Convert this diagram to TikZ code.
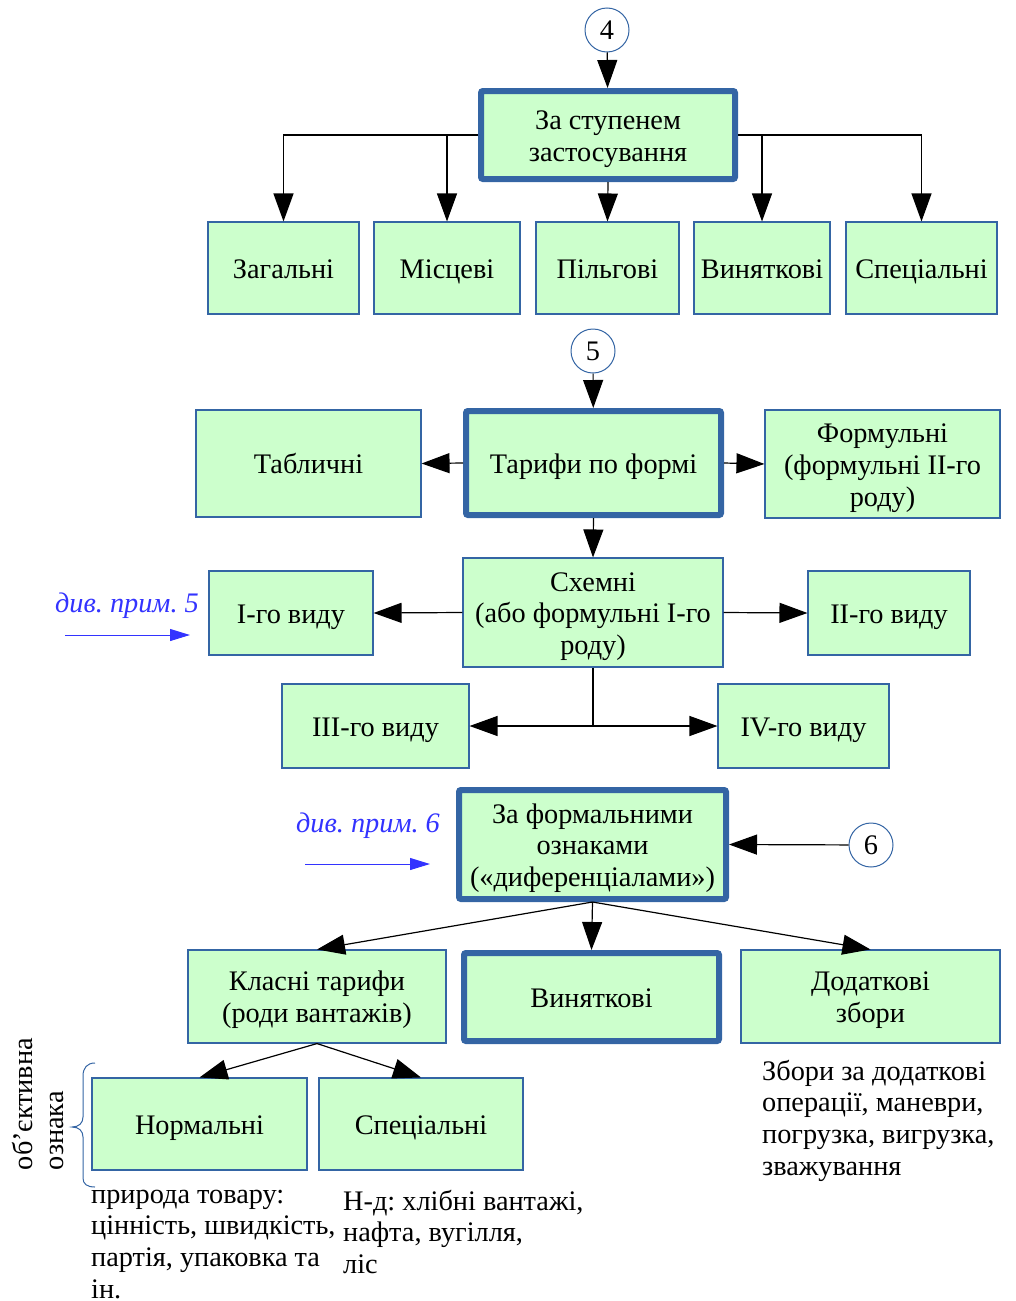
\documentclass[tikz,border=0pt]{standalone}
\usepackage{fontspec}
\setmainfont{Liberation Serif}
\usetikzlibrary{arrows.meta}
\definecolor{boxfill}{HTML}{CCFFCC}
\definecolor{boxline}{HTML}{3465A4}
\definecolor{noteblue}{HTML}{3333FF}
\frenchspacing
% fixed first-line ascent, so every box centres its lines alike
\newcommand\firstline{\rule{0pt}{28.6pt}}

\begin{document}
\begin{tikzpicture}[x=1pt,y=-1pt,
  every node/.style={font=\fontsize{28.3}{31.7}\selectfont},
  boxtext/.style={align=center, inner sep=0pt,
    execute at end node={\rule[-8pt]{0pt}{8pt}}},
  box/.style={boxtext, draw=boxline, line width=1.1pt, fill=boxfill},
  keybox/.style={boxtext, draw=boxline, line width=6pt, fill=boxfill, rounded corners=2pt},
  circ/.style={circle, draw=boxline, line width=1pt, fill=white, minimum size=44pt, inner sep=0pt},
  link/.style={line width=1.2pt, -{Triangle[length=28pt,width=20pt]}},
  plain/.style={line width=1.2pt},
  note/.style={text=noteblue, font=\fontsize{28.3}{31.7}\selectfont\itshape, inner sep=0pt, anchor=base},
  notearrow/.style={draw=noteblue, line width=1pt, -{Triangle[length=20pt,width=12pt]}},
  txt/.style={align=left, inner sep=0pt, anchor=north west},
  brace/.style={draw=boxline, line width=1pt}
]
\useasboundingbox (0,0) rectangle (1015,1301);

% --- degree of application ---
\node[circ] (c4) at (607,30) {4};
\node[keybox, minimum width=254pt, minimum height=88pt] (stup) at (608,135) {\firstline За ступенем\\застосування};
\node[box, minimum width=151pt, minimum height=92pt] (zag)  at (283.5,268) {\firstline Загальні};
\node[box, minimum width=146pt, minimum height=92pt] (misc) at (447,268)   {\firstline Місцеві};
\node[box, minimum width=143pt, minimum height=92pt] (pilg) at (607.5,268) {\firstline Пільгові};
\node[box, minimum width=136pt, minimum height=92pt] (vyn)  at (762,268)   {\firstline Виняткові};
\node[box, minimum width=151pt, minimum height=92pt] (spec) at (921.5,268) {\firstline Спеціальні};

\draw[link] (c4) -- (stup);
\draw[link] (stup.west) -| (zag.north);
\draw[link] (misc.north |- stup.west) -- (misc.north);
\draw[link] (stup.south) -- (pilg.north);
\draw[link] (stup.east) -| (spec.north);
\draw[link] (vyn.north |- stup.east) -- (vyn.north);

% --- tariffs by form ---
\node[circ] (c5) at (593,351) {5};
\node[keybox, minimum width=255pt, minimum height=104pt] (forma) at (593.5,463) {\firstline Тарифи по формі};
\node[box, minimum width=225pt, minimum height=107pt] (tabl) at (308.5,463.5) {\firstline Табличні};
\node[box, minimum width=235pt, minimum height=108pt] (formul) at (882.5,464) {\firstline Формульні\\(формульні II-го\\роду)};
\node[box, minimum width=260pt, minimum height=109pt] (shem) at (593,612.5) {\firstline Схемні\\(або формульні I-го\\роду)};
\node[box, minimum width=164pt, minimum height=84pt] (v1) at (291,613) {\firstline I-го виду};
\node[box, minimum width=162pt, minimum height=84pt] (v2) at (889,613) {\firstline II-го виду};
\node[box, minimum width=187pt, minimum height=84pt] (v3) at (375.5,726) {\firstline III-го виду};
\node[box, minimum width=171pt, minimum height=84pt] (v4) at (803.5,726) {\firstline IV-го виду};

\draw[link] (c5) -- (forma);
\draw[link] (forma.west) -- (tabl.east);
\draw[link] (forma.east) -- (formul.west);
\draw[link] (forma.south) -- (shem.north);
\draw[link] (shem.west) -- (v1.east);
\draw[link] (shem.east) -- (v2.west);
\coordinate (fork) at (shem.south |- v3.east);
\draw[plain] (shem.south) -- (fork);
\draw[link] (fork) -- (v3.east);
\draw[link] (fork) -- (v4.west);

\node[note] (n5) at (127,612) {див. прим. 5};
\coordinate (n5a) at (65,635);
\coordinate (n5b) at (190,635);
\draw[notearrow] (n5a) -- (n5b);

% --- formal features ---
\node[keybox, minimum width=267pt, minimum height=109pt] (formal) at (592.5,844.5) {\firstline За формальними\\ознаками\\(«диференціалами»)};
\node[circ] (c6) at (871,845) {6};
\draw[link] (c6) -- (formal.east);

\node[note] (n6) at (368,832) {див. прим. 6};
\coordinate (n6a) at (305,864);
\coordinate (n6b) at (430,864);
\draw[notearrow] (n6a) -- (n6b);

\node[box, minimum width=258pt, minimum height=93pt] (klas) at (317,996.5) {\firstline Класні тарифи\\(роди вантажів)};
\node[keybox, minimum width=255pt, minimum height=88pt] (vyn2) at (591.5,997) {\firstline Виняткові};
\node[box, minimum width=259pt, minimum height=93pt] (dod) at (870.5,996.5) {\firstline Додаткові\\збори};

\draw[link] (formal.south) -- (klas.north);
\draw[link] (formal.south) -- (vyn2.north);
\draw[link] (formal.south) -- (dod.north);

\node[box, minimum width=215pt, minimum height=92pt] (norm) at (199.5,1124) {\firstline Нормальні};
\node[box, minimum width=204pt, minimum height=92pt] (spec2) at (421,1124) {\firstline Спеціальні};
\draw[link] (klas.south) -- (norm.north);
\draw[link] (klas.south) -- (spec2.north);

% --- remarks ---
\node[txt] (tdod) at (762,1057.8) {\strut Збори за додаткові\\операції, маневри,\\погрузка, вигрузка,\\зважування};
\node[txt] (tnorm) at (91,1180.8) {\strut природа товару:\\цінність, швидкість,\\партія, упаковка та\\ін.};
\node[txt] (tspec) at (343,1187.8) {\strut Н-д: хлібні вантажі,\\нафта, вугілля,\\ліс};

% brace and its caption
\draw[brace] (95,1063) .. controls (87,1063) and (83,1068) .. (83,1076)
  -- (83,1117) .. controls (83,1123) and (79,1127) .. (72,1127)
  .. controls (79,1127) and (83,1131) .. (83,1137)
  -- (83,1178) .. controls (83,1184) and (87,1187) .. (95,1187);
\node[rotate=90, align=left, inner sep=0pt] (obj) at (38,1104) {об’єктивна\\ознака};
\end{tikzpicture}
\end{document}
